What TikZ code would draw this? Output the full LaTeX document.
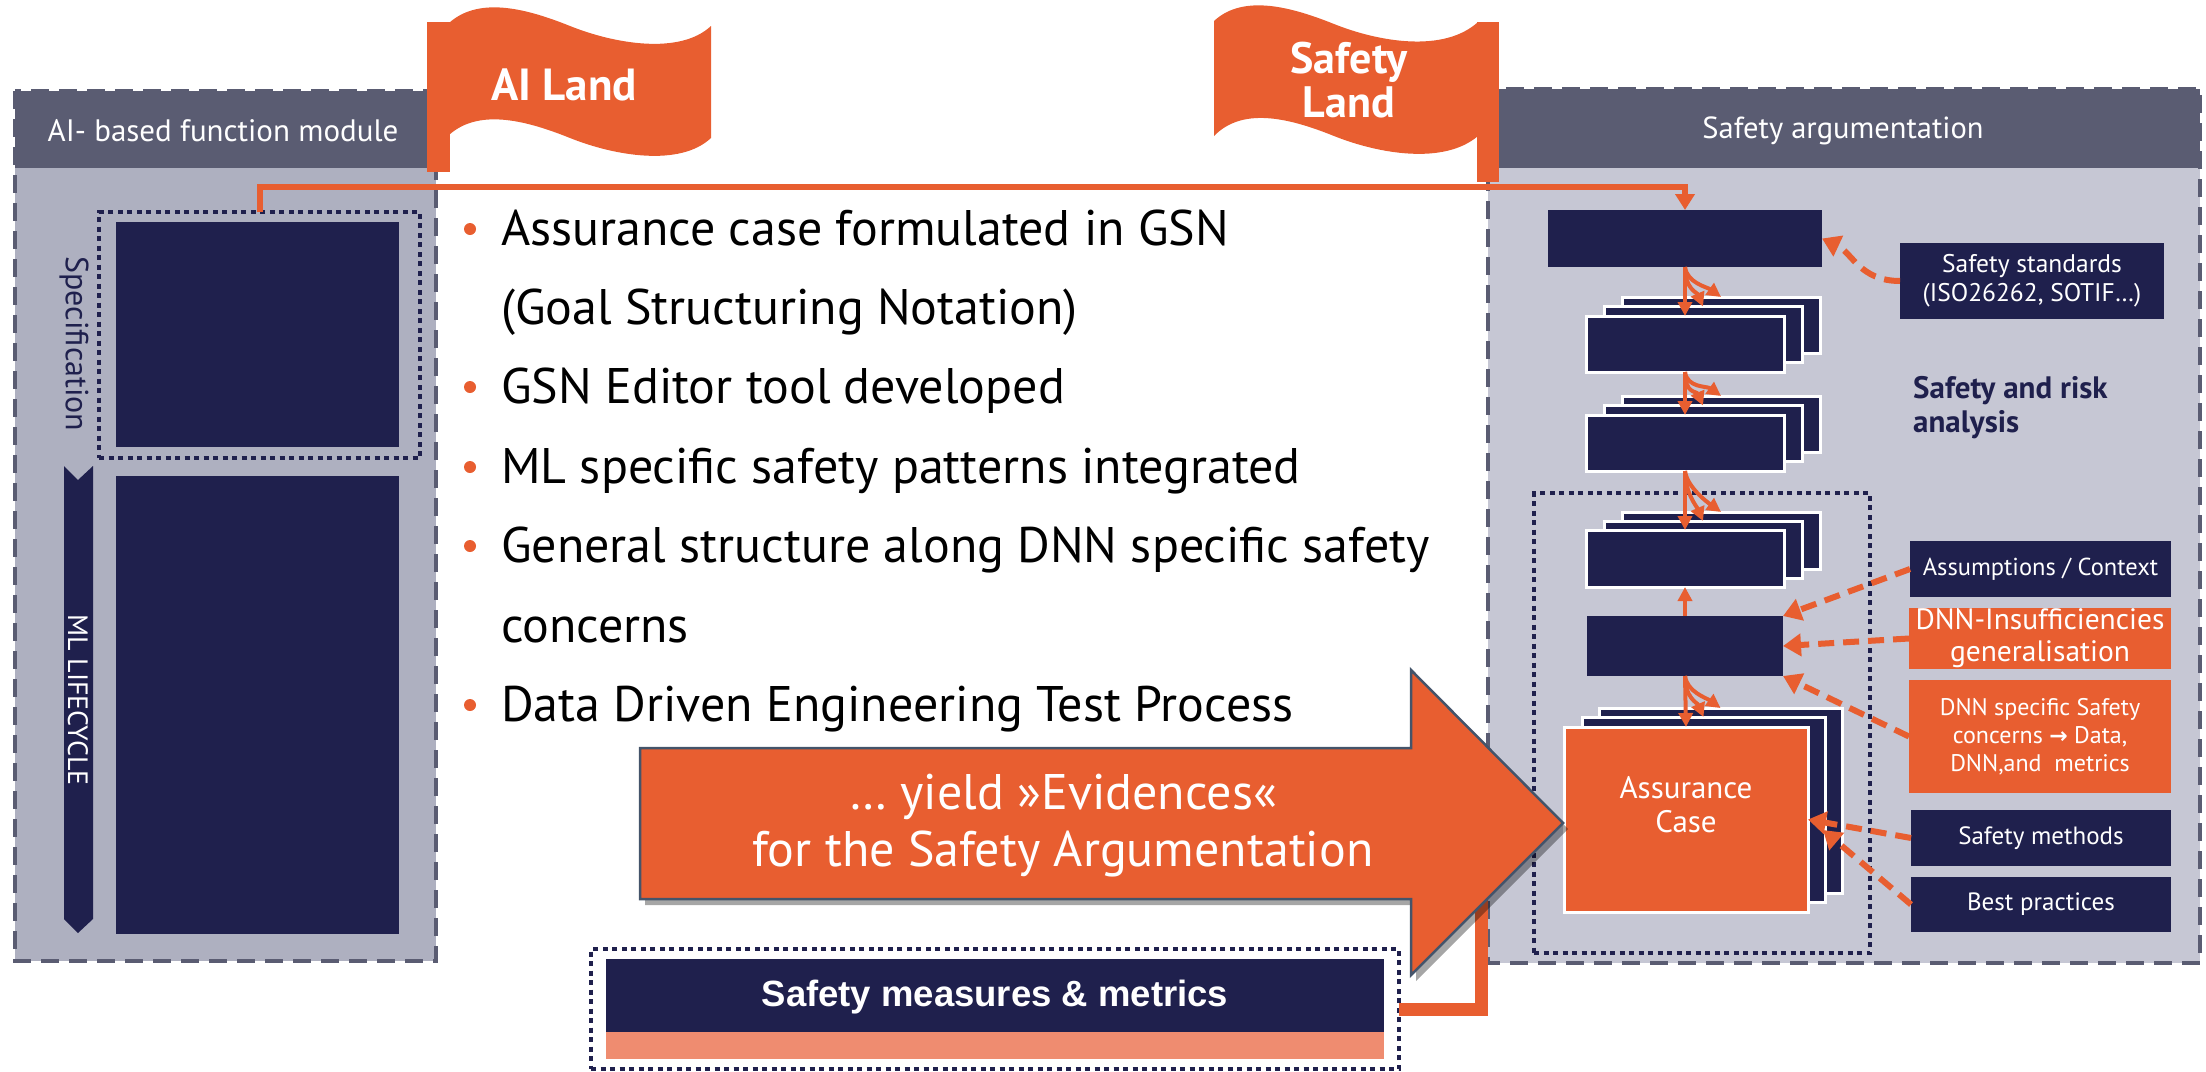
\documentclass[tikz,border=0pt]{standalone}
\usepackage{fontspec}
\setmainfont{PT Sans}
\newfontfamily\arialf{Liberation Sans}
\newfontfamily\djv{DejaVu Sans}
\usetikzlibrary{arrows.meta,calc}
\definecolor{oran}{RGB}{232,94,48}
\definecolor{navy}{RGB}{31,32,77}
\definecolor{hdr}{RGB}{90,92,114}
\definecolor{lightL}{RGB}{174,176,192}
\definecolor{lightR}{RGB}{198,199,212}
\definecolor{salmon}{RGB}{239,140,112}
\definecolor{arrbord}{RGB}{68,84,106}
\newcommand\fsz[2]{\fontsize{#1}{#2}\selectfont}
\begin{document}
\begin{tikzpicture}[x=1pt,y=-1pt,
  nbox/.style={inner sep=0pt, outer sep=0pt, fill=navy, draw=none},
  sbox/.style={nbox, draw=white, line width=3pt},
  obox/.style={inner sep=0pt, outer sep=0pt, fill=oran, draw=none},
  paneldash/.style={draw=hdr, line width=4pt, dash pattern=on 18pt off 10pt},
  navydot/.style={draw=navy, line width=4.5pt, dash pattern=on 5pt off 4.5pt},
  oarrow/.style={draw=oran, line width=4pt, -{Triangle[width=14pt,length=14pt]}},
  darrow/.style={draw=oran, line width=6pt, dash pattern=on 16pt off 9pt, -{Triangle[width=22pt,length=18pt]}},
  wtxt/.style={inner sep=0pt, align=center, text=white},
  bul/.style={circle, fill=oran, inner sep=0pt, minimum size=12pt},
  btxt/.style={inner sep=0pt, anchor=base west, text=black, font=\fsz{50}{56}}
]
\useasboundingbox (0,0) rectangle (2206,1071);

% ---------------- left panel
\fill[lightL] (15,168) rectangle (436,961);
\fill[hdr] (15,91) rectangle (436,168);
\draw[paneldash] (15,91) rectangle (436,961);
\node[wtxt, font=\fsz{31}{35}] (lhdr) at (223,131) {AI- based function module};

\node[nbox, minimum width=283pt, minimum height=225pt] (specdark) at (257.5,334.5) {};
\node[inner sep=0pt, outer sep=0pt, navydot, minimum width=321pt, minimum height=246pt] (spec) at (259.5,335) {};
\node[nbox, minimum width=283pt, minimum height=458pt] (mldark) at (257.5,705) {};
\fill[navy] (64,466) -- (78,480) -- (93,466) -- (93,919) -- (78,933) -- (64,919) -- cycle;
\node[inner sep=0pt, text=white, rotate=-90, font=\fsz{28}{30}] (mllabel) at (78,700) {ML LIFECYCLE};
\node[inner sep=0pt, text=navy, rotate=-90, font=\fsz{32}{34}] (speclabel) at (74,344) {Specification};

% ---------------- right panel
\fill[lightR] (1488,168) rectangle (2200,963);
\fill[hdr] (1488,89) rectangle (2200,168);
\draw[paneldash] (1488,89) rectangle (2200,963);
\node[wtxt, font=\fsz{30.5}{34}] (rhdr) at (1843,131) {Safety argumentation};

\node[inner sep=0pt, outer sep=0pt, navydot, minimum width=336pt, minimum height=460pt] (ldot) at (1702,723) {};

\node[nbox, minimum width=274pt, minimum height=57pt] (g1) at (1685,238.5) {};
% stack 2
\node[sbox, minimum width=198pt, minimum height=56pt] (s2b) at (1721,325) {};
\node[sbox, minimum width=198pt, minimum height=56pt] (s2m) at (1703,334.5) {};
\node[sbox, minimum width=198pt, minimum height=56pt] (s2f) at (1685,344) {};
% stack 3
\node[sbox, minimum width=198pt, minimum height=56pt] (s3b) at (1721,424) {};
\node[sbox, minimum width=198pt, minimum height=56pt] (s3m) at (1703,433.5) {};
\node[sbox, minimum width=198pt, minimum height=56pt] (s3f) at (1685,443) {};
% stack 4
\node[sbox, minimum width=198pt, minimum height=57pt] (s4b) at (1721,540.5) {};
\node[sbox, minimum width=198pt, minimum height=57pt] (s4m) at (1703,549.5) {};
\node[sbox, minimum width=198pt, minimum height=57pt] (s4f) at (1685,558.5) {};
% g5
\node[nbox, minimum width=196pt, minimum height=60pt] (g5) at (1685,646) {};
% assurance case stack
\node[sbox, minimum width=243pt, minimum height=185pt] (acb) at (1720.5,800.5) {};
\node[sbox, minimum width=243pt, minimum height=185pt] (acm) at (1703.5,809.5) {};
\node[sbox, fill=oran, minimum width=244pt, minimum height=185pt] (acf) at (1686,819.5) {};
\node[wtxt, font=\fsz{31}{34}] (actxt) at (1686,805) {Assurance\\Case};

% right boxes
\node[nbox, minimum width=264pt, minimum height=76pt, wtxt, font=\fsz{25.5}{29}] (ss) at (2032,281) {Safety standards\\(ISO26262, SOTIF…)};
\node[inner sep=0pt, anchor=base west, text=navy, align=left, font=\bfseries\fsz{31}{34}] (sra) at (1913,432) {Safety and risk\\analysis};
\node[nbox, minimum width=261pt, minimum height=56pt, wtxt, font=\fsz{24.5}{28}] (asm) at (2040.5,569) {Assumptions / Context};
\node[obox, minimum width=262pt, minimum height=61pt, wtxt, font=\fsz{29.5}{32}] (dnn1) at (2040,638.5) {DNN-Insufficiencies\\generalisation};
\node[obox, minimum width=262pt, minimum height=113pt, wtxt, font=\fsz{24}{28}] (dnn2) at (2040,736.5) {DNN specific Safety\\concerns {\djv\bfseries\fsz{22}{28}→} Data,\\DNN,and~ metrics};
\node[nbox, minimum width=260pt, minimum height=56pt, wtxt, font=\fsz{25}{28}] (smeth) at (2041,838) {Safety methods};
\node[nbox, minimum width=260pt, minimum height=55pt, wtxt, font=\fsz{25}{28}] (bp) at (2041,904.5) {Best practices};

% solid GSN arrows
\draw[oarrow] (g1.south) -- (s2f.north);
\draw[oarrow] (g1.south) .. controls +(0,22) and +(-6,-14) .. (s2m.north);
\draw[oarrow] (g1.south) .. controls +(2,16) and +(-14,-10) .. (s2b.north);
\draw[oarrow] (s2f.south) -- (s3f.north);
\draw[oarrow] (s2f.south) .. controls +(0,22) and +(-6,-14) .. (s3m.north);
\draw[oarrow] (s2f.south) .. controls +(2,16) and +(-14,-10) .. (s3b.north);
\draw[oarrow] (s3f.south) -- (s4f.north);
\draw[oarrow] (s3f.south) .. controls +(0,22) and +(-6,-14) .. (s4m.north);
\draw[oarrow] (s3f.south) .. controls +(2,16) and +(-14,-10) .. (s4b.north);
\draw[oarrow] (g5.north) -- (s4f.south);
\draw[oarrow] (g5.south) -- (acf.north);
\draw[oarrow] (g5.south) .. controls +(0,22) and +(-6,-14) .. (acm.north);
\draw[oarrow] (g5.south) .. controls +(2,16) and +(-14,-10) .. (acb.north);

% dashed arrows
\draw[darrow] (ss.west) .. controls +(-40,0) and +(30,14) .. (g1.east);
\draw[darrow] (asm.west) -- (g5.north east);
\draw[darrow] (dnn1.west) -- (g5.east);
\draw[darrow] (dnn2.west) -- (g5.south east);
\draw[darrow] (smeth.west) -- (acf.east);
\coordinate (bptgt) at (1823,830);
\draw[darrow] (bp.west) -- (bptgt);

% orange connector spec -> g1
\coordinate (c1) at (1685,187);
\draw[draw=oran, line width=6pt, -{Triangle[width=19pt,length=16pt]}] (spec.north) |- (c1) -- (g1.north);

% ---------------- flags
\fill[oran] (427,22) rectangle (450,172);
\fill[oran] (449,23) .. controls (480,-5) and (530,10) .. (570,26) .. controls (615,44) and (680,55) .. (711,26)
  -- (711,138) .. controls (680,167) and (615,156) .. (570,138) .. controls (530,122) and (480,107) .. (449,135) -- cycle;
\node[wtxt, font=\bfseries\fsz{45}{48}] (ailand) at (564,85) {AI Land};

\fill[oran] (1477,22) rectangle (1499,182);
\begin{scope}[shift={(764,-2)}]
\fill[oran] (450,23) .. controls (480,-5) and (530,10) .. (570,26) .. controls (615,44) and (680,55) .. (714,24)
  -- (714,138) .. controls (680,167) and (615,156) .. (570,138) .. controls (530,122) and (480,107) .. (450,138) -- cycle;
\end{scope}
\node[wtxt, font=\bfseries\fsz{44}{44}] (sfland) at (1349,80) {Safety\\Land};

% ---------------- bullet text
\node[btxt] (t1) at (501,245) {Assurance case formulated in GSN};
\node[btxt] (t2) at (501,324) {(Goal Structuring Notation)};
\node[btxt] (t3) at (501,403) {GSN Editor tool developed};
\node[btxt] (t4) at (501,483) {ML specific safety patterns integrated};
\node[btxt] (t5) at (501,562) {General structure along DNN specific safety};
\node[btxt] (t6) at (501,642) {concerns};
\node[btxt] (t7) at (501,721) {Data Driven Engineering Test Process};
\node[bul] (b1) at (470,229) {};
\node[bul] (b3) at (470,387) {};
\node[bul] (b4) at (470,467) {};
\node[bul] (b5) at (470,546) {};
\node[bul] (b7) at (470,705) {};

% ---------------- safety measures box
\node[inner sep=0pt, outer sep=0pt, navydot, minimum width=808pt, minimum height=120pt] (smm) at (995,1009) {};
\node[nbox, minimum width=778pt, minimum height=73pt] (smnavy) at (995,995.5) {};
\node[inner sep=0pt, outer sep=0pt, fill=salmon, minimum width=778pt, minimum height=27pt] (smsal) at (995,1045.5) {};
\node[wtxt, font=\arialf\bfseries\fsz{36.5}{40}] (smtxt) at (995,997) {Safety measures \& metrics};
\coordinate (c2) at (1481,870);
\draw[draw=oran, line width=13pt] (smm.east) -| (c2);

% ---------------- big arrow
\fill[black, opacity=0.35] ([shift={(5,6)}]640,748) -- ([shift={(5,6)}]1411,748) -- ([shift={(5,6)}]1411,670) -- ([shift={(5,6)}]1563,823) -- ([shift={(5,6)}]1411,975) -- ([shift={(5,6)}]1411,899) -- ([shift={(5,6)}]640,899) -- cycle;
\filldraw[fill=oran, draw=arrbord, line width=2.5pt] (640,748) -- (1411,748) -- (1411,670) -- (1563,823) -- (1411,975) -- (1411,899) -- (640,899) -- cycle;
\node[wtxt, font=\fsz{50}{57}] (evid) at (1063,826) {… yield »Evidences«\\for the Safety Argumentation};
\end{tikzpicture}
\end{document}
